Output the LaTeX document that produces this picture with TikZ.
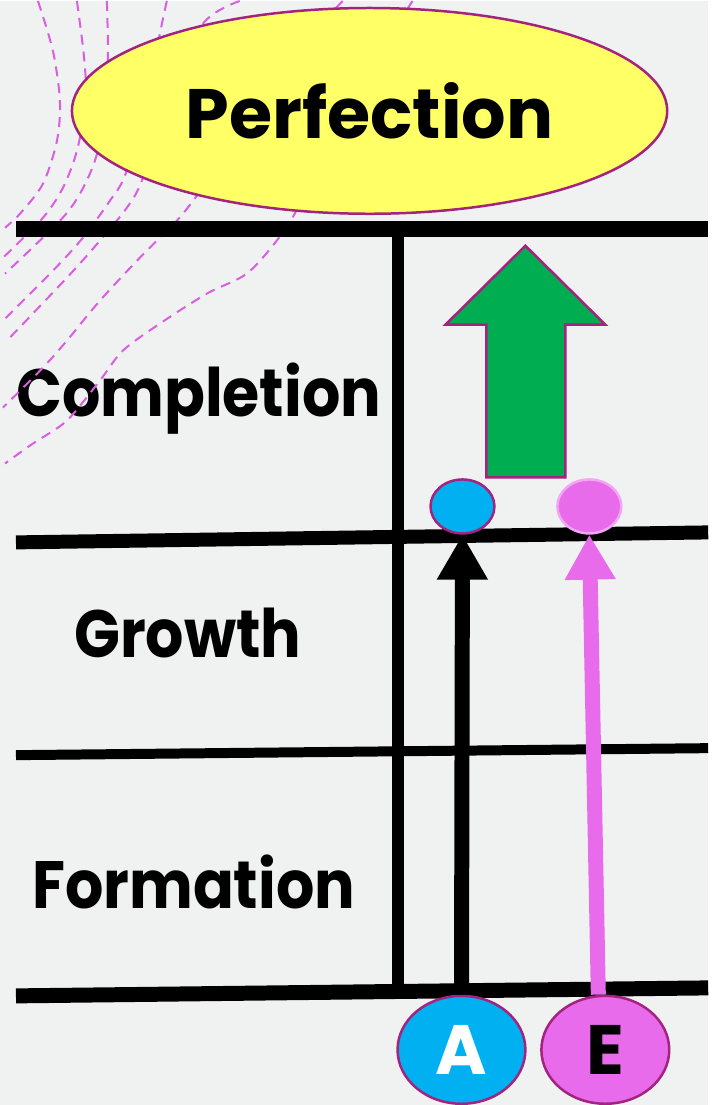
\documentclass[tikz,border=0pt]{standalone}
\usepackage{fontspec}
\setmainfont{Poppins}
\newfontfamily\stagefont{Poppins}[FakeStretch=0.9]
\usetikzlibrary{shapes,arrows.meta}
\definecolor{bggray}{HTML}{F0F2F1}
\definecolor{perfyellow}{HTML}{FFFF66}
\definecolor{edgepurple}{HTML}{A3237F}
\definecolor{risegreen}{HTML}{00AD50}
\definecolor{dotblue}{HTML}{00B0F0}
\definecolor{dotpink}{HTML}{E76BEB}
\definecolor{pinkrim}{HTML}{F2A6F2}
\definecolor{dashpink}{HTML}{D95EE2}

\begin{document}
\begin{tikzpicture}[x=1pt,y=-1pt]
  \tikzstyle{stage}=[anchor=base west,inner sep=0pt,font=\stagefont\fontsize{67}{70}\selectfont\bfseries]
  \tikzstyle{rim}=[draw=edgepurple,line width=2.5pt]
  \tikzstyle{dot}=[ellipse,rim,minimum width=64pt,minimum height=54pt,inner sep=0pt]
  \tikzstyle{base}=[ellipse,rim,minimum width=128pt,minimum height=108pt,inner sep=0pt,font=\fontsize{70}{70}\selectfont\bfseries]
  \tikzstyle{bar}=[line width=15pt]
  \tikzstyle{path}=[dashpink,line width=2pt,dash pattern=on 10pt off 7pt]
  \tikzstyle{shaft}=[line width=15pt,-{Triangle[length=45pt,width=48pt]}]

  \fill[bggray] (0,0) rectangle (709,1105);

  % stage labels
  \node[stage] (completion) at (16,416) {Completion};
  \node[stage] (growth) at (74,657) {Growth};
  \node[stage] (formation) at (32,909) {Formation};

  % dashed paths top left
  \draw[path] plot[smooth] coordinates {(38,0) (53,50) (60,100) (57,140) (43,183) (20,213) (5,227)};
  \draw[path] plot[smooth] coordinates {(77,0) (84,55) (86,100) (77,150) (63,187) (43,217) (3,257)};
  \draw[path] plot[smooth] coordinates {(107,0) (108,60) (104,120) (95,160) (80,193) (60,220) (5,273)};
  \draw[path] plot[smooth] coordinates {(167,0) (160,33) (145,110) (125,175) (110,200) (83,237) (53,270) (3,320)};
  \draw[path] plot[smooth] coordinates {(240,0) (203,23) (170,100) (142,180) (127,207) (100,240) (67,277) (7,340)};
  \draw[path] plot[smooth] coordinates {(343,0) (280,70) (230,150) (197,195) (177,220) (140,257) (100,300) (67,340) (43,367) (3,407)};
  \draw[path] plot[smooth] coordinates {(413,0) (350,100) (310,180) (295,213) (277,240) (247,273) (207,293) (160,323) (123,350) (100,380) (67,420) (33,443) (5,463)};

  % grid
  \draw[bar,line width=12pt] (398,228) -- (398,990);
  \draw[bar,line width=16pt] (16,228) -- (709,228);
  \draw[bar,line width=14pt] (16,542) -- (709,532);
  \draw[bar,line width=10pt] (16,755) -- (709,748);
  \draw[bar,line width=15pt] (16,996) -- (709,988);

  \node[ellipse,rim,fill=perfyellow,minimum width=596pt,minimum height=206pt,
    font=\fontsize{70}{70}\selectfont\bfseries] (perfection) at (370,110) {Perfection};

  \draw[rim,fill=risegreen] (526,245) -- (606,324) -- (566,324) -- (566,477)
    -- (487,477) -- (487,324) -- (446,324) -- cycle;

  \node[dot,fill=dotblue] (adot) at (463,506) {};
  \node[dot,fill=dotpink,draw=pinkrim] (edot) at (590,506) {};

  \node[base,fill=dotblue,text=white] (A) at (462,1050) {A};
  \node[base,fill=dotpink] (E) at (606,1050) {E};

  \draw[shaft,black] (A.north) -- (adot.south);
  \draw[shaft,dotpink] ([xshift=-7pt]E.north) -- (edot.south);
\end{tikzpicture}
\end{document}
